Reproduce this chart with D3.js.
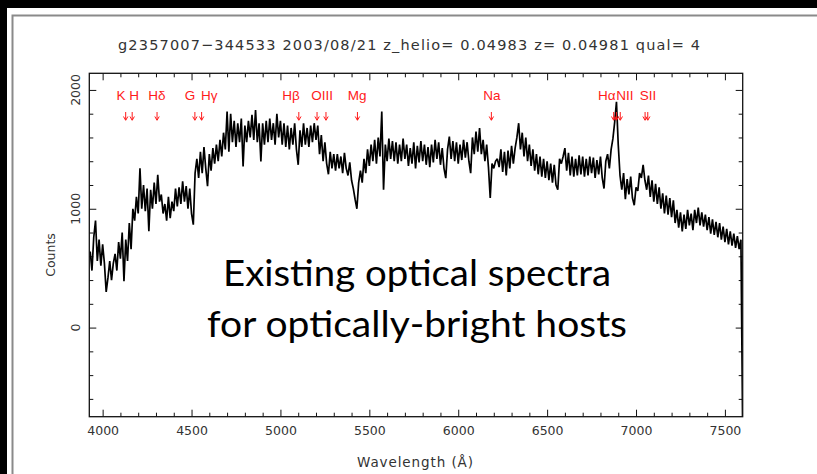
<!DOCTYPE html>
<html><head><meta charset="utf-8">
<script src="https://cdn.jsdelivr.net/npm/d3@7"></script>
<style>
html,body{margin:0;padding:0;background:#000;}
svg{display:block;}
</style></head>
<body>
<script>
// ---- data ----
const titleText = "g2357007\u2212344533 2003/08/21 z_helio= 0.04983 z= 0.04981 qual= 4";
const xLabel = "Wavelength (\u00C5)";
const yLabel = "Counts";
const xMajorTicks = [4000, 4500, 5000, 5500, 6000, 6500, 7000, 7500];
const yMajorTicks = [0, 1000, 2000];
const redshift = 0.04981;
const restLines = [3933.7, 3968.5, 4101.7, 4304.4, 4340.5, 4861.3, 4958.9, 5006.8, 5175.4, 5892.9, 6548.1, 6562.8, 6583.4, 6716.4, 6730.8];
const lineNames = ["K H", "H\u03B4", "G", "H\u03B3", "H\u03B2", "OIII", "Mg", "Na", "H\u03B1", "NII", "SII"];
const labelWavelengths = [4141, 4305, 4492, 4600, 5059, 5234, 5432, 6189, 6836, 6937, 7067];
const overlayLines = ["Existing optical spectra", "for optically-bright hosts"];
// spectrum sampled every 10 A starting at 3930 A
const specStart = 3930, specStep = 10;
const counts = [
640,480,760,900,560,740,520,700,540,300,
420,560,400,540,620,480,720,580,800,390,
740,560,880,660,1000,900,1100,960,1340,1000,
1200,980,1170,810,1160,1000,1220,1040,1286,1060,
1120,960,1040,900,1100,920,1060,980,1170,1020,
1180,1040,1230,1060,1190,1000,1170,960,866,1300,
1420,1260,1480,1300,1520,1340,1190,1460,1320,1510,
1380,1540,1400,1580,1440,1640,1500,1818,1480,1800,
1560,1740,1520,1720,1560,1760,1356,1700,1560,1740,
1600,1790,1580,1830,1560,1720,1398,1720,1540,1740,
1560,1760,1580,1720,1540,1800,1600,1740,1540,1720,
1520,1700,1500,1680,1540,1720,1500,1370,1660,1520,
1720,1540,1680,1520,1700,1560,1720,1580,1700,1460,
1620,1400,1560,1380,1290,1480,1340,1460,1320,1460,
1340,1440,1300,1470,1340,1280,1390,1240,1170,1080,
1000,1220,1320,1220,1420,1300,1500,1360,1540,1400,
1580,1380,1600,1440,1818,1160,1540,1400,1590,1420,
1570,1400,1560,1380,1540,1400,1590,1420,1540,1360,
1510,1380,1560,1340,1530,1390,1570,1400,1540,1370,
1520,1350,1540,1390,1580,1420,1560,1370,1510,1340,
1258,1500,1608,1420,1570,1400,1560,1380,1540,1410,
1580,1430,1560,1400,1300,1600,1460,1650,1480,1680,
1460,1580,1400,1540,1350,1090,1380,1340,1400,1420,
1350,1500,1310,1480,1280,1490,1340,1530,1380,1510,
1600,1720,1500,1640,1440,1600,1400,1540,1360,1500,
1320,1460,1290,1440,1270,1420,1260,1400,1240,1380,
1220,1370,1200,1160,1420,1380,1440,1510,1320,1470,
1280,1440,1270,1420,1280,1450,1290,1440,1270,1420,
1280,1440,1300,1430,1260,1410,1290,1440,1260,1170,
1400,1460,1340,1500,1590,1730,1900,1540,1280,1160,
1300,1080,1250,1120,1270,1090,1030,1180,1150,1300,
1260,1370,1240,1160,1280,1100,1240,1060,1210,1040,
1180,1000,1130,960,1110,950,1090,930,1070,880,
990,840,970,810,950,830,990,860,960,820,
990,880,1010,860,970,850,950,820,930,790,
910,780,890,760,880,740,850,720,830,700,
810,690,790,670,770,660,740,-900
];

// ---- drawing ----
const W = 817, H = 474;
const svg = d3.select("body").append("svg").attr("width", W).attr("height", H);
svg.append("rect").attr("x", 0).attr("y", 0).attr("width", W).attr("height", H).attr("fill", "#000");
svg.append("rect").attr("x", 7).attr("y", 8).attr("width", W - 7).attr("height", H - 8).attr("fill", "#fff");
svg.append("path").attr("d", `M12.5,${H} V15.5 H${W}`).attr("fill", "none").attr("stroke", "#8a8a8a").attr("stroke-width", 2);

const pLeft = 89.3, pRight = 742.7, pTop = 73.3, pBottom = 416.7;
const x = d3.scaleLinear().domain([3925, 7600]).range([pLeft, pRight]);
const y = d3.scaleLinear().domain([-750, 2140]).range([pBottom, pTop]);

const xMinor = d3.range(4000, 7600, 100).filter(v => !xMajorTicks.includes(v));
const yMinor = d3.range(-600, 2100, 200).filter(v => !yMajorTicks.includes(v));

const axisColor = "#111";
function styleAxis(g) {
  g.select(".domain").remove();
  g.selectAll(".tick line").attr("stroke", axisColor).attr("stroke-width", 1);
}
// bottom
svg.append("g").attr("transform", `translate(0,${pBottom})`)
  .call(d3.axisBottom(x).tickValues(xMajorTicks).tickSize(-7).tickPadding(9).tickFormat(d3.format("d")))
  .call(styleAxis)
  .call(g => g.selectAll("text").attr("font-family", "DejaVu Sans").attr("font-size", 12.5).attr("fill", "#333"));
svg.append("g").attr("transform", `translate(0,${pBottom})`)
  .call(d3.axisBottom(x).tickValues(xMinor).tickSize(-4).tickFormat("")).call(styleAxis);
// top
svg.append("g").attr("transform", `translate(0,${pTop})`)
  .call(d3.axisTop(x).tickValues(xMajorTicks).tickSize(-7).tickFormat("")).call(styleAxis);
svg.append("g").attr("transform", `translate(0,${pTop})`)
  .call(d3.axisTop(x).tickValues(xMinor).tickSize(-4).tickFormat("")).call(styleAxis);
// left
svg.append("g").attr("transform", `translate(${pLeft},0)`)
  .call(d3.axisLeft(y).tickValues(yMajorTicks).tickSize(-7).tickFormat("")).call(styleAxis);
svg.append("g").attr("transform", `translate(${pLeft},0)`)
  .call(d3.axisLeft(y).tickValues(yMinor).tickSize(-4).tickFormat("")).call(styleAxis);
// right
svg.append("g").attr("transform", `translate(${pRight},0)`)
  .call(d3.axisRight(y).tickValues(yMajorTicks).tickSize(-7).tickFormat("")).call(styleAxis);
svg.append("g").attr("transform", `translate(${pRight},0)`)
  .call(d3.axisRight(y).tickValues(yMinor).tickSize(-4).tickFormat("")).call(styleAxis);

// y tick labels (rotated)
svg.append("g").selectAll("text").data(yMajorTicks).join("text")
  .attr("transform", d => `translate(75,${y(d)}) rotate(-90)`)
  .attr("text-anchor", "middle").attr("dy", "0.36em")
  .attr("font-family", "DejaVu Sans").attr("font-size", 12.5).attr("fill", "#333")
  .text(d => d3.format("d")(d));

// axis titles
svg.append("text").attr("transform", "translate(50,255) rotate(-90)")
  .attr("text-anchor", "middle").attr("dy", "0.36em")
  .attr("font-family", "DejaVu Sans").attr("font-size", 12.5).attr("fill", "#333").text(yLabel);
svg.append("text").attr("x", 415).attr("y", 467).attr("text-anchor", "middle")
  .attr("font-family", "DejaVu Sans").attr("font-size", 13.5).attr("fill", "#333")
  .attr("textLength", 116).attr("lengthAdjust", "spacing").text(xLabel);
svg.append("text").attr("x", 409).attr("y", 50).attr("text-anchor", "middle")
  .attr("font-family", "DejaVu Sans").attr("font-size", 14.5).attr("fill", "#333")
  .attr("textLength", 582).attr("lengthAdjust", "spacing").text(titleText);

// spectrum
svg.append("clipPath").attr("id", "clip").append("rect")
  .attr("x", pLeft).attr("y", pTop).attr("width", pRight - pLeft).attr("height", pBottom - pTop);
const spec = counts.map((c, i) => ({ w: specStart + i * specStep, c }));
svg.append("path").datum(spec).attr("clip-path", "url(#clip)")
  .attr("d", d3.line().x(d => x(d.w)).y(d => y(d.c)))
  .attr("fill", "none").attr("stroke", "#000").attr("stroke-width", 1.7).attr("stroke-linejoin", "bevel");

// frame
svg.append("rect").attr("x", pLeft).attr("y", pTop).attr("width", pRight - pLeft).attr("height", pBottom - pTop)
  .attr("fill", "none").attr("stroke", axisColor).attr("stroke-width", 1.3);

// line identifications
const red = "#ff1a1a";
svg.append("g").selectAll("path").data(restLines).join("path")
  .attr("d", d => { const px = x(d * (1 + redshift)); return `M${px},112 V120 M${px - 2.2},116.5 L${px},120.3 L${px + 2.2},116.5`; })
  .attr("fill", "none").attr("stroke", red).attr("stroke-width", 1);
svg.append("g").selectAll("text").data(lineNames).join("text")
  .attr("x", (d, i) => x(labelWavelengths[i])).attr("y", 99.5)
  .attr("text-anchor", "middle").attr("font-family", "Liberation Sans").attr("font-size", 13.5).attr("fill", red)
  .text(d => d);

// overlay text
svg.append("g").selectAll("text").data(overlayLines).join("text")
  .attr("x", 417).attr("y", (d, i) => i === 0 ? 286 : 337)
  .attr("text-anchor", "middle").attr("font-family", "Lato").attr("font-size", 36).attr("fill", "#000")
  .attr("textLength", (d, i) => i === 0 ? 388 : 420).attr("lengthAdjust", "spacingAndGlyphs")
  .text(d => d);
</script>
</body></html>
